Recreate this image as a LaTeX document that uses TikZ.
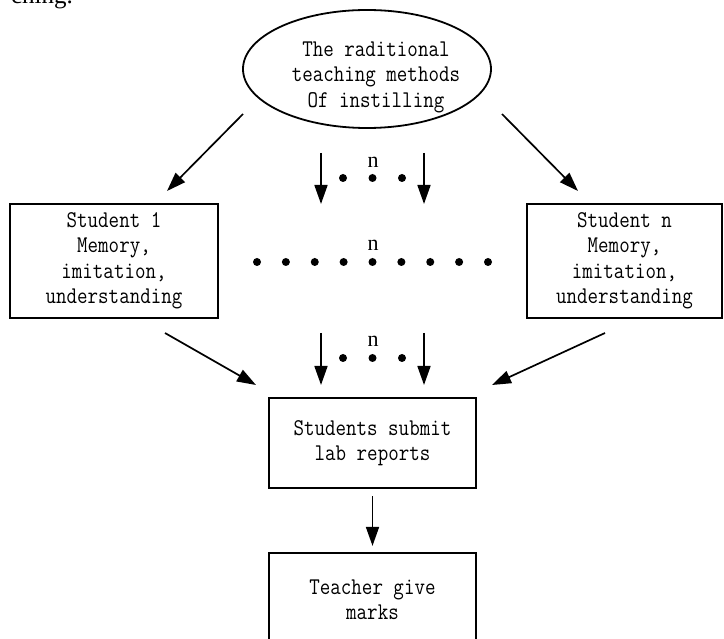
\documentclass[tikz,border=0pt]{standalone}
\usepackage{fontspec}
\setmainfont{Liberation Serif}
\setmonofont[FakeStretch=0.85]{Latin Modern Mono}
\usetikzlibrary{arrows.meta,shapes.geometric}

\tikzset{
  arr/.style={-{Triangle[length=19pt,width=13pt]},line width=1.7pt},
  boxtext/.style={align=center,font=\ttfamily\fontsize{24}{25.5}\selectfont},
  stepbox/.style={draw,line width=2.2pt,inner sep=0pt,boxtext},
  nlabel/.style={font=\fontsize{22}{22}\selectfont,inner sep=0pt}
}

\begin{document}
\begin{tikzpicture}[x=1pt,y=-1pt]
    \useasboundingbox (0,0) rectangle (724,639);
    \clip (0,0) rectangle (724,639);

    % Spacing of the dot rows
    \def\dotr{4pt}
    \def\dotdx{28.875}

    % 0) End of the line of text above the figure
    \node[anchor=base east,inner sep=0pt,font=\fontsize{25}{25}\selectfont] (prev) at (73,4) {ching.};

    % 1) The traditional method (ellipse)
    \node[draw,ellipse,line width=1.8pt,minimum width=248pt,minimum height=118pt,inner sep=0pt] (method) at (367,69) {};
    \node[boxtext] (methodtext) at (376,77) {The raditional\\teaching methods\\Of instilling};

    % 2) The students
    \node[stepbox,minimum width=208pt,minimum height=114pt] (stuone) at (114,261)
      {Student 1\\Memory,\\imitation,\\understanding};
    \node[stepbox,minimum width=195pt,minimum height=114pt] (stun) at (624.5,261)
      {Student n\\Memory,\\imitation,\\understanding};

    % 3) Reports and marks
    \node[stepbox,minimum width=207pt,minimum height=90pt] (report) at (372.5,443)
      {Students submit\\lab reports};
    \node[stepbox,minimum width=207pt,minimum height=93pt] (marks) at (372.5,599.5)
      {Teacher give\\marks};

    % 4) Arrows from the method to the students
    \coordinate (tl0) at (243,114);
    \coordinate (tl1) at (167,191);
    \coordinate (tr0) at (502,114);
    \coordinate (tr1) at (578,191);
    \draw[arr] (tl0) -- (tl1);
    \draw[arr] (tr0) -- (tr1);
    \coordinate (ta0) at (321,153);
    \coordinate (ta1) at (321,204);
    \coordinate (tb0) at (424,153);
    \coordinate (tb1) at (424,204);
    \draw[arr] (ta0) -- (ta1);
    \draw[arr] (tb0) -- (tb1);
    \foreach \i in {0,1,2}
      \fill (343+\i*29.5,178) circle (\dotr);
    \node[nlabel] (ntop) at (373,162) {n};

    % 5) Row of students in between
    \foreach \i in {0,...,8}
      \fill (257+\i*\dotdx,262) circle (\dotr);
    \node[nlabel] (nmid) at (373,245) {n};

    % 6) Arrows from the students to the reports
    \coordinate (bl0) at (165,333);
    \coordinate (bl1) at (256,385);
    \coordinate (br0) at (605,333);
    \coordinate (br1) at (492,385);
    \draw[arr] (bl0) -- (bl1);
    \draw[arr] (br0) -- (br1);
    \coordinate (ba0) at (321,333);
    \coordinate (ba1) at (321,385);
    \coordinate (bb0) at (424,333);
    \coordinate (bb1) at (424,385);
    \draw[arr] (ba0) -- (ba1);
    \draw[arr] (bb0) -- (bb1);
    \foreach \i in {0,1,2}
      \fill (343+\i*29.5,358) circle (\dotr);
    \node[nlabel] (nbot) at (373,341) {n};

    % 7) Reports to marks
    \draw[arr,shorten <=7pt,shorten >=6pt] (report) -- (marks);
\end{tikzpicture}
\end{document}
